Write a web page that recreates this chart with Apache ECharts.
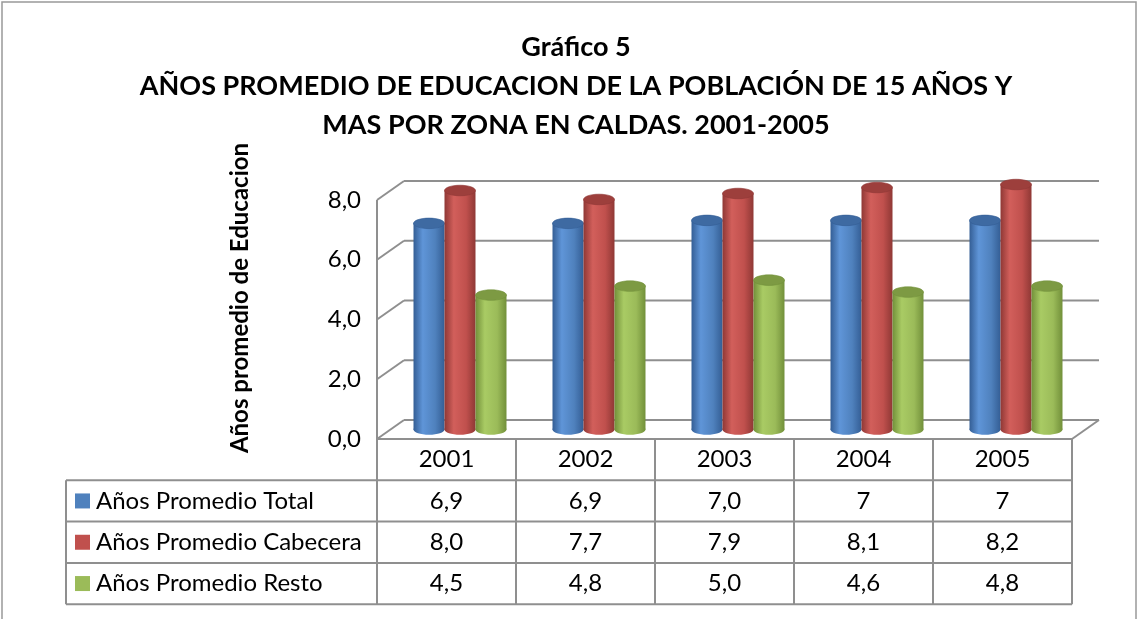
<!DOCTYPE html>
<html><head><meta charset="utf-8">
<script src="https://cdn.jsdelivr.net/npm/echarts@6/dist/echarts.min.js"></script>
<style>html,body{margin:0;padding:0;background:#fff}#c{width:1139px;height:619px}</style>
</head><body><div id="c"></div>
<script>
// ---- data ----
const categories = ['2001', '2002', '2003', '2004', '2005'];
const seriesNames = ['Años Promedio Total', 'Años Promedio Cabecera', 'Años Promedio Resto'];
const total = [6.9, 6.9, 7.0, 7, 7];
const cabecera = [8.0, 7.7, 7.9, 8.1, 8.2];
const resto = [4.5, 4.8, 5.0, 4.6, 4.8];
const tableDecimals = [[1, 1, 1, 0, 0], [1, 1, 1, 1, 1], [1, 1, 1, 1, 1]];
const yTicks = [0, 2, 4, 6, 8];
const titleLines = ['Gráfico 5', 'AÑOS PROMEDIO DE EDUCACION DE LA POBLACIÓN DE 15 AÑOS Y', 'MAS POR ZONA EN CALDAS. 2001-2005'];
const yAxisTitle = 'Años promedio de Educacion';

// ---- style / layout ----
const FONT = 'Lato, "Open Sans", sans-serif';
const DX = 27, DY = -19;           // 3D depth offset
const LINE = '#8f8f8f';
const TXT = 24;
const palette = [
  { base: '#4F81BD', dark: '#345e95', light: '#5f95d8', top: '#3e6aa2' },
  { base: '#C0504D', dark: '#8f3835', light: '#d25f5b', top: '#9d3f3c' },
  { base: '#9BBB59', dark: '#72903a', light: '#a9cb64', top: '#7d9a43' }
];
const allSeries = [total, cabecera, resto];
const fmt = (v, d) => v.toFixed(d).replace('.', ',');

function cylinder(s) {
  return function (params, api) {
    const idx = api.value(0), v = api.value(1);
    const b = api.coord([idx, 0]);
    const t = api.coord([idx, v]);
    const bw = api.size([1, 0])[0];
    const w = bw * 0.223;
    const cx = b[0] + (s - 1) * w + DX * 0.5;
    const yb = b[1] + DY * 0.5;
    const yt = t[1] + DY * 0.5;
    const ry = w * 0.17;
    const p = palette[s];
    const grad = new echarts.graphic.LinearGradient(0, 0, 1, 0, [
      { offset: 0, color: p.dark }, { offset: 0.3, color: p.light },
      { offset: 0.7, color: p.base }, { offset: 1, color: p.dark }
    ]);
    return {
      type: 'group', children: [
        { type: 'ellipse', shape: { cx: cx, cy: yb, rx: w / 2, ry: ry }, style: { fill: grad } },
        { type: 'rect', shape: { x: cx - w / 2, y: yt, width: w, height: yb - yt }, style: { fill: grad } },
        { type: 'ellipse', shape: { cx: cx, cy: yt, rx: w / 2, ry: ry }, style: { fill: p.top, stroke: p.dark, lineWidth: 0.6 } }
      ]
    };
  };
}

function frame(params, api) {
  const cs = params.coordSys;
  const x0 = cs.x, x1 = cs.x + cs.width;
  const ch = [];
  const ln = (a, b, c, d) => ch.push({ type: 'line', shape: { x1: a, y1: b, x2: c, y2: d }, style: { stroke: LINE, lineWidth: 2 } });
  yTicks.forEach(v => {
    const y = api.coord([0, v])[1];
    ln(x0, y, x0 + DX, y + DY);            // side wall
    ln(x0 + DX, y + DY, x1 + DX, y + DY);  // back wall
  });
  const y0 = api.coord([0, 0])[1], y8 = api.coord([0, yTicks[yTicks.length - 1]])[1];
  ln(x0, y0, x0, y8);
  ln(x1, y0, x1 + DX, y0 + DY);
  // data table
  const rowH = 41.3, labelLeft = 66;
  const bw = api.size([1, 0])[0];
  const tTop = y0, tBot = y0 + rowH * 4;
  ln(x0, tTop, x1, tTop);
  for (let r = 1; r <= 4; r++) ln(labelLeft, tTop + rowH * r, x1, tTop + rowH * r);
  ln(labelLeft, tTop + rowH, labelLeft, tBot);
  for (let i = 0; i <= categories.length; i++) {
    const xx = api.coord([i, 0])[0] - bw / 2;
    ln(xx, tTop, xx, tBot);
  }
  allSeries.forEach((arr, s) => {
    const yc = tTop + rowH * (s + 1.5);
    ch.push({ type: 'rect', shape: { x: 75, y: yc - 7.5, width: 15, height: 15 }, style: { fill: palette[s].base } });
    ch.push({ type: 'text', style: { text: seriesNames[s], x: 96, y: yc, align: 'left', verticalAlign: 'middle', fontSize: TXT, fontFamily: FONT, fill: '#000' } });
    arr.forEach((v, i) => {
      ch.push({ type: 'text', style: { text: fmt(v, tableDecimals[s][i]), x: api.coord([i, 0])[0], y: yc, align: 'center', verticalAlign: 'middle', fontSize: TXT, fontFamily: FONT, fill: '#000' } });
    });
  });
  return { type: 'group', children: ch };
}

const chart = echarts.init(document.getElementById('c'));
chart.setOption({
  animation: false,
  backgroundColor: '#fff',
  title: {
    text: titleLines.join('\n'), left: 571, top: 23, textAlign: 'center',
    textStyle: { fontFamily: FONT, fontWeight: 'bold', fontSize: 27, lineHeight: 39, color: '#000' }
  },
  graphic: [
    { type: 'rect', shape: { x: 2, y: 2, width: 1134, height: 640 }, style: { fill: 'none', stroke: '#999', lineWidth: 1.5 }, silent: true },
    { type: 'text', x: 240, y: 298, rotation: Math.PI / 2, style: { text: yAxisTitle, align: 'center', verticalAlign: 'middle', fontFamily: FONT, fontWeight: 'bold', fontSize: 24, fill: '#000' } }
  ],
  grid: { left: 377, right: 67, top: 200, bottom: 180 },
  xAxis: {
    type: 'category', data: categories,
    axisLine: { show: false }, axisTick: { show: false },
    axisLabel: { fontFamily: FONT, fontSize: TXT, color: '#000', margin: 8 }
  },
  yAxis: {
    type: 'value', min: 0, max: 8, interval: 2,
    axisLine: { show: false }, axisTick: { show: false }, splitLine: { show: false },
    axisLabel: { fontFamily: FONT, fontSize: TXT, color: '#000', margin: 16, formatter: v => fmt(v, 1) }
  },
  series: [
    { type: 'custom', name: 'frame', renderItem: frame, data: [[0, 0]], z: 1, silent: true },
    ...allSeries.map((arr, s) => ({
      type: 'custom', name: seriesNames[s], renderItem: cylinder(s),
      data: arr.map((v, i) => [i, v]), encode: { x: 0, y: 1 }, z: 2 + s
    }))
  ]
});
</script>
</body></html>
